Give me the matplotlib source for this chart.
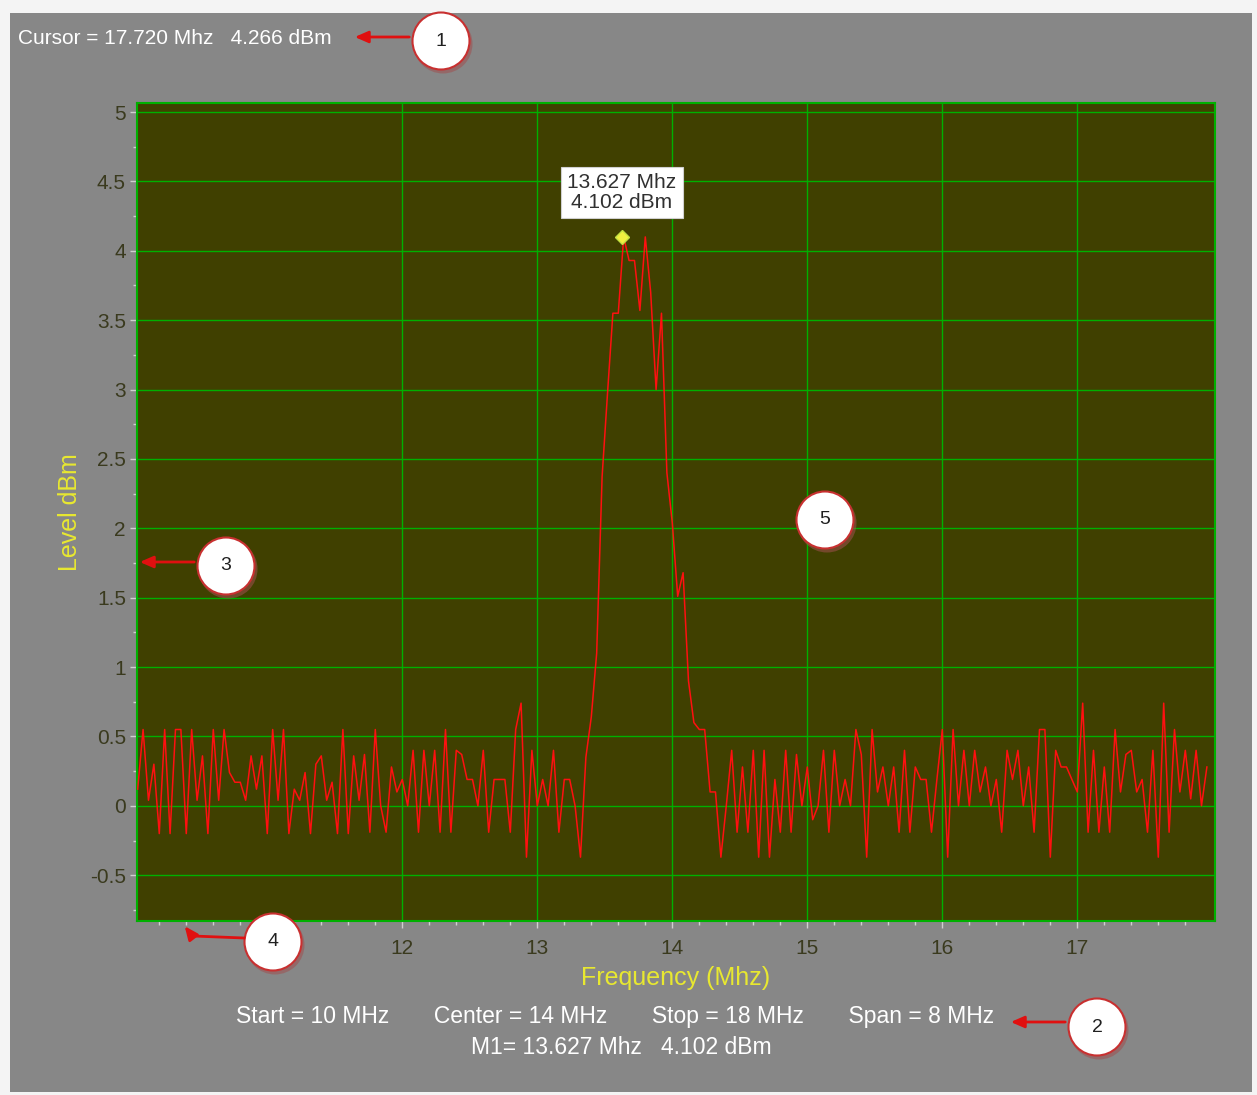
import matplotlib
matplotlib.use("Agg")
import matplotlib.pyplot as plt
from matplotlib.patches import Rectangle, Ellipse
import numpy as np

plt.rcParams['font.family'] = ['Liberation Sans', 'DejaVu Sans']

# trace values, one every 0.04 MHz from 10.04 MHz
noise_a = [0.12, 0.55, 0.04, 0.30, -0.20, 0.55, -0.20, 0.55, 0.55, -0.20,
           0.55, 0.04, 0.36, -0.20, 0.55, 0.04, 0.55, 0.24, 0.17, 0.17,
           0.04, 0.36, 0.12, 0.36, -0.20, 0.55, 0.04, 0.55, -0.20, 0.12,
           0.04, 0.24, -0.20, 0.30, 0.36, 0.04, 0.17, -0.20, 0.55, -0.20,
           0.36, 0.04]
noise_b = [0.37, -0.19, 0.55, 0.00, -0.19, 0.28, 0.10, 0.19, 0.00, 0.40,
           -0.19, 0.40, 0.00, 0.40, -0.19, 0.55, -0.19, 0.40, 0.37, 0.19,
           0.19, 0.00, 0.40, -0.19, 0.19, 0.19, 0.19, -0.19, 0.55, 0.74,
           -0.37, 0.40, 0.00, 0.19, 0.00, 0.40, -0.19, 0.19, 0.19, 0.00,
           -0.37]
peak = [0.35, 0.64, 1.10, 2.37, 2.97, 3.55, 3.55, 4.10, 3.93, 3.93,
        3.57, 4.10, 3.70, 3.00, 3.55, 2.40, 2.04, 1.51, 1.68, 0.90,
        0.60, 0.55, 0.55, 0.10]
noise_c = [0.10, -0.37, 0.00, 0.40, -0.19, 0.28, -0.19, 0.40, -0.37, 0.40,
           -0.37, 0.19, -0.19, 0.40, -0.19, 0.37, 0.00, 0.28, -0.10, 0.00,
           0.40, -0.19, 0.40, 0.00, 0.19, 0.00, 0.55, 0.37, -0.37, 0.55,
           0.10, 0.28, 0.00, 0.28, -0.19, 0.40, -0.19, 0.28, 0.19, 0.19,
           -0.19, 0.19, 0.55, -0.37, 0.55, 0.00, 0.40, 0.00, 0.40, 0.10,
           0.28, 0.00, 0.19, -0.19, 0.40, 0.19, 0.40, 0.00, 0.28, -0.19,
           0.55, 0.55, -0.37, 0.40, 0.28, 0.28, 0.19, 0.10, 0.74, -0.19,
           0.40, -0.19, 0.28, -0.19, 0.55, 0.10, 0.37, 0.40, 0.10, 0.19,
           -0.19, 0.40, -0.37, 0.74, -0.19, 0.55, 0.10, 0.40, 0.05, 0.40,
           0.00, 0.28]
level = np.array(noise_a + noise_b + peak + noise_c)
freq = 10.04 + 0.04 * np.arange(len(level))

marker_freq = 13.627
marker_level = 4.102
xtick_vals = [11, 12, 13, 14, 15, 16, 17]
xtick_labels = ['', '12', '13', '14', '15', '16', '17']  # 11 sits under callout 4
xgrid_vals = [12, 13, 14, 15, 16, 17]
ytick_vals = [-0.5, 0, 0.5, 1, 1.5, 2, 2.5, 3, 3.5, 4, 4.5, 5]
ytick_labels = ['-0.5', '0', '0.5', '1', '1.5', '2', '2.5', '3', '3.5', '4', '4.5', '5']

cursor_text = 'Cursor = 17.720 Mhz   4.266 dBm'
info_line1 = 'Start = 10 MHz       Center = 14 MHz       Stop = 18 MHz       Span = 8 MHz'
info_line2 = 'M1= 13.627 Mhz   4.102 dBm'
callouts = ['1', '2', '3', '4', '5']

W, H = 1257, 1095
fig = plt.figure(figsize=(W / 100, H / 100), dpi=100, facecolor='#f4f4f4')
fig.patches.append(Rectangle((10 / W, 3 / H), 1242 / W, 1079 / H, transform=fig.transFigure,
                             facecolor='#878787', edgecolor='none', zorder=0))

ax = fig.add_axes([137 / W, (H - 921) / H, 1078 / W, 818 / H], zorder=1)
ax.set_facecolor('#404000')
ax.set_xlim(10.035, 18.02)
ax.set_ylim(-0.83, 5.065)

for g in xgrid_vals:
    ax.axvline(g, color='#00b000', lw=1.0, zorder=1)
for g in ytick_vals:
    ax.axhline(g, color='#00b000', lw=1.0, zorder=1)

ax.plot(freq, level, color='#ff1010', lw=1.1, zorder=3)
ax.plot([marker_freq], [marker_level], marker='D', ms=7, color='#f0f040',
        markeredgecolor='#c0e040', zorder=4)
ax.text(marker_freq, 4.42, '13.627 Mhz\n4.102 dBm', ha='center', va='center',
        fontsize=15, color='#303030', linespacing=1.05, zorder=5,
        bbox=dict(boxstyle='square,pad=0.3', facecolor='white', edgecolor='#d0d0d0', lw=0.8))

for s in ax.spines.values():
    s.set_color('#00b000')
    s.set_linewidth(1.5)

ax.set_xticks(xtick_vals)
ax.set_xticklabels(xtick_labels)
ax.set_xticks(np.arange(10.2, 18.0, 0.2), minor=True)
ax.set_yticks(ytick_vals)
ax.set_yticklabels(ytick_labels)
ax.set_yticks(np.arange(-0.75, 5.0, 0.5), minor=True)
ax.tick_params(axis='both', which='both', colors='#d0d0d0', labelcolor='#3a3a1e',
               labelsize=15, direction='out')
ax.tick_params(axis='both', which='major', length=5, width=1)
ax.tick_params(axis='both', which='minor', length=3, width=1)
ax.tick_params(axis='x', pad=8)
ax.tick_params(axis='y', pad=3)

ax.set_xlabel('Frequency (Mhz)', color='#e8e830', fontsize=18, labelpad=6)
ax.set_ylabel('Level dBm', color='#e8e830', fontsize=18, labelpad=6)

# overlay in pixel coordinates for texts and callouts
ov = fig.add_axes([0, 0, 1, 1], zorder=5)
ov.set_xlim(0, W)
ov.set_ylim(H, 0)
ov.axis('off')
ov.patch.set_alpha(0)

ov.text(18, 38, cursor_text, color='white', fontsize=15, va='center', ha='left')
ov.text(615, 1017, info_line1, color='white', fontsize=16.5, va='center', ha='center')
ov.text(621, 1047, info_line2, color='white', fontsize=16.5, va='center', ha='center')

centers = [(441, 41), (1097, 1027), (226, 566), (273, 942), (825, 520)]
for (cx, cy), lab in zip(centers, callouts):
    ov.add_patch(Ellipse((cx + 2, cy + 3), 59, 59, facecolor='#a05050', edgecolor='none', alpha=0.55))
    ov.add_patch(Ellipse((cx, cy), 57, 57, facecolor='white', edgecolor='#c83030', lw=1.5))
    ov.text(cx, cy, lab, ha='center', va='center', fontsize=14, color='#202020')

arrow_kw = dict(arrowstyle='-|>,head_length=0.8,head_width=0.35', color='#e01010', lw=2)
ov.annotate('', xy=(352, 37), xytext=(412, 37), arrowprops=arrow_kw)
ov.annotate('', xy=(1008, 1022), xytext=(1068, 1022), arrowprops=arrow_kw)
ov.annotate('', xy=(137, 562), xytext=(197, 562), arrowprops=arrow_kw)
ov.plot([244, 193], [938, 936], color='#e01010', lw=2)
ov.annotate('', xy=(183, 924), xytext=(193, 937), arrowprops=arrow_kw)

fig.savefig('out.png', dpi=100, facecolor=fig.get_facecolor())
